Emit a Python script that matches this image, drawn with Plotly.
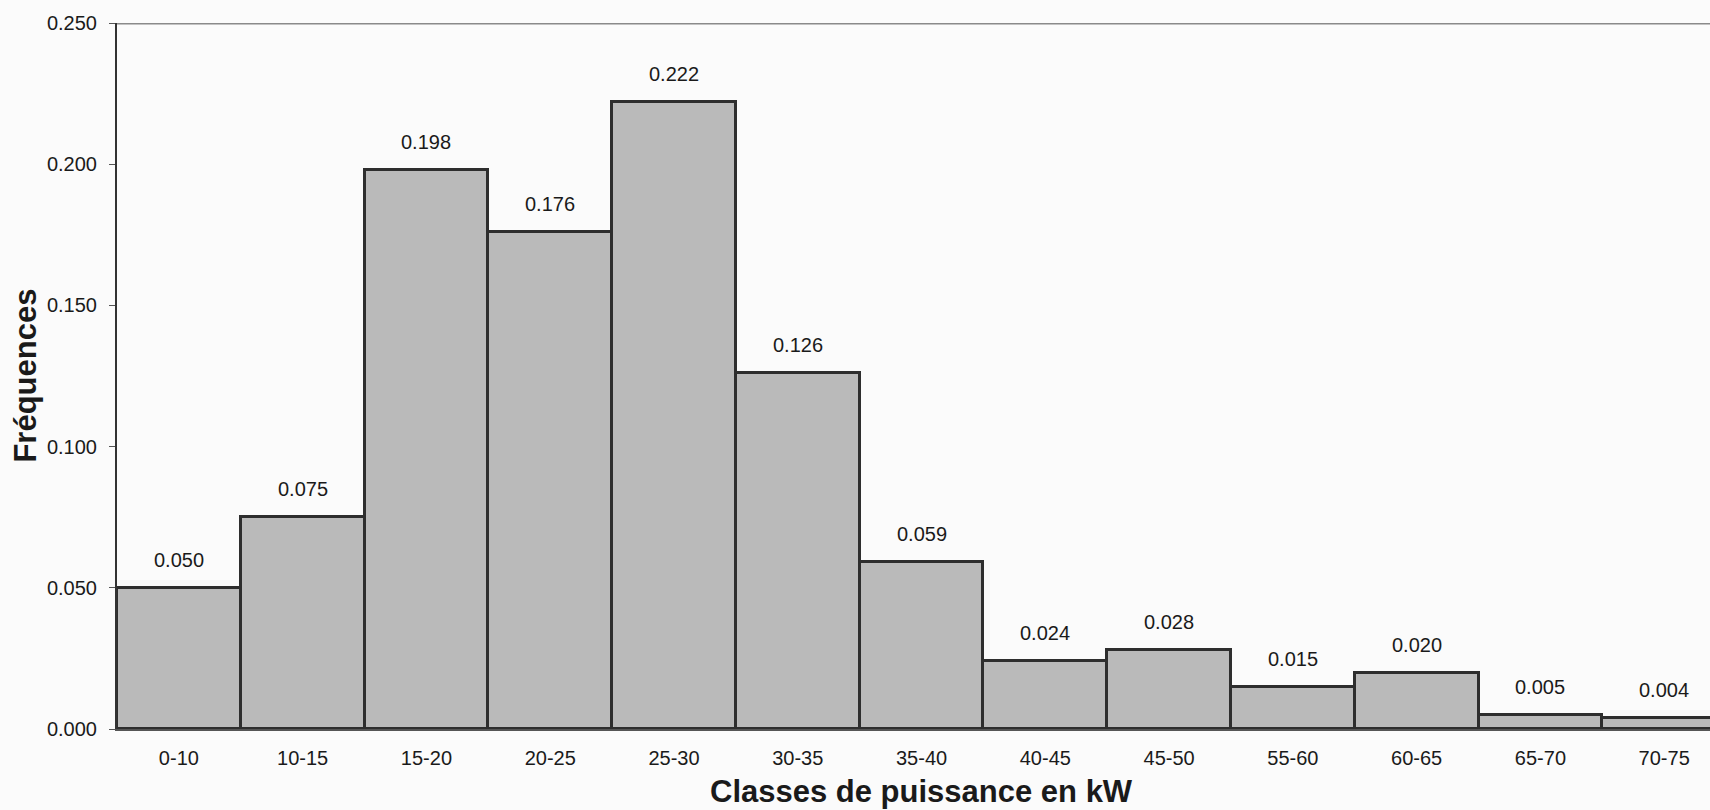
import plotly.graph_objects as go

# Power classes (kW) and their relative frequencies
classes = ["0-10", "10-15", "15-20", "20-25", "25-30", "30-35", "35-40",
           "40-45", "45-50", "55-60", "60-65", "65-70", "70-75"]
frequences = [0.050, 0.075, 0.198, 0.176, 0.222, 0.126, 0.059,
              0.024, 0.028, 0.015, 0.020, 0.005, 0.004]
y_ticks = [0.000, 0.050, 0.100, 0.150, 0.200, 0.250]

FONT = "Liberation Sans, Arial, sans-serif"

fig = go.Figure()
fig.add_trace(go.Bar(
    x=list(range(len(classes))),
    y=frequences,
    marker=dict(color="#bababa", line=dict(color="#2e2e2e", width=3)),
    width=1.0,
    hoverinfo="skip",
))

# Value labels above each bar
for i, v in enumerate(frequences):
    fig.add_annotation(
        x=i, y=v, xref="x", yref="y",
        text=f"{v:.3f}", showarrow=False,
        yanchor="middle", yshift=28,
        font=dict(family=FONT, size=20, color="#1a1a1a"),
    )

# Axis titles
fig.add_annotation(
    x=6, y=-0.089, xref="x", yref="paper",
    text="<b>Classes de puissance en kW</b>", showarrow=False,
    yanchor="middle", borderpad=0,
    font=dict(family=FONT, size=31, color="#1a1a1a"),
)
fig.add_annotation(
    x=-0.058, y=0.5, xref="paper", yref="paper",
    text="<b>Fréquences</b>", showarrow=False, textangle=-90,
    xanchor="center", yanchor="middle",
    font=dict(family=FONT, size=31, color="#1a1a1a"),
)

# Top frame line
fig.add_shape(type="line", xref="paper", yref="y", x0=0, x1=1, y0=0.25, y1=0.25,
              line=dict(color="#8a8a8a", width=3))

fig.update_layout(
    width=1710, height=810,
    margin=dict(l=117, r=0, t=23, b=81),
    paper_bgcolor="#fbfbfb",
    plot_bgcolor="#fbfbfb",
    bargap=0,
    showlegend=False,
    font=dict(family=FONT, size=20, color="#1a1a1a"),
)
fig.update_xaxes(
    tickmode="array",
    tickvals=list(range(len(classes))),
    ticktext=classes,
    range=[-0.5, 12.37],
    showline=True, linecolor="#555555", linewidth=2,
    showgrid=False, zeroline=False,
    ticks="", ticklabelstandoff=10,
    tickfont=dict(family=FONT, size=20, color="#1a1a1a"),
)
fig.update_yaxes(
    range=[0, 0.25],
    tickmode="array",
    tickvals=y_ticks,
    ticktext=[f"{t:.3f}" for t in y_ticks],
    showline=True, linecolor="#333333", linewidth=2,
    showgrid=False, zeroline=False,
    ticks="outside", ticklen=6, tickcolor="#555555", tickwidth=1,
    ticklabelstandoff=8,
    tickfont=dict(family=FONT, size=20, color="#1a1a1a"),
)

fig.write_html("out.html")
